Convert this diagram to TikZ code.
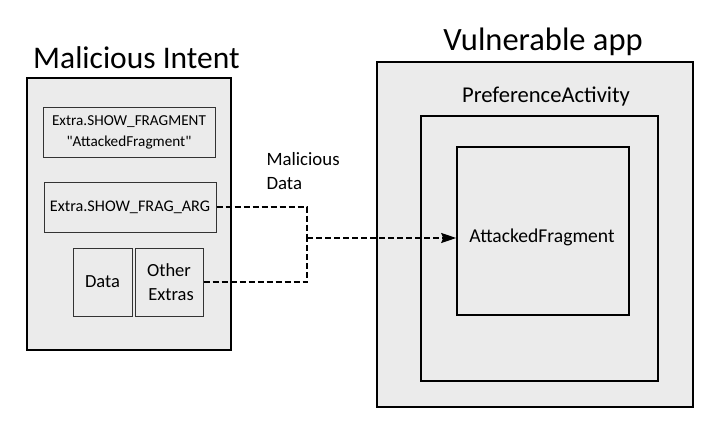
\documentclass[tikz,border=0pt]{standalone}
\usepackage{fontspec}
\setmainfont{Carlito}[Ligatures=TeXOff]
\usetikzlibrary{arrows.meta}
\definecolor{boxgray}{HTML}{EBEBEB}
\tikzset{
  panel/.style={draw=black, fill=boxgray, line width=1.6pt, inner sep=0pt},
  field/.style={draw=black!80, fill=boxgray, line width=1pt, inner sep=0pt, align=center},
  title/.style={anchor=base},
  flow/.style={line width=1.3pt, dash pattern=on 6pt off 3pt},
}
\begin{document}
\begin{tikzpicture}[x=1pt, y=-1pt]
\useasboundingbox (0,0) rectangle (715,431);

% Malicious intent side
\node[title, font=\fontsize{31.5}{36}\selectfont] (t1) at (136.5,68) {Malicious Intent};
\node[panel, minimum width=204pt, minimum height=272pt] (intent) at (129,214) {};
\node[field, minimum width=172pt, minimum height=50pt,
      font=\fontsize{15.2}{21}\selectfont] (showfrag) at (129,132)
      {Extra.SHOW\_FRAGMENT\\"AttackedFragment"};
\node[field, minimum width=172pt, minimum height=50pt,
      font=\fontsize{16.2}{21}\selectfont] (fragarg) at (130,207) {Extra.SHOW\_FRAG\_ARG};
\node[field, minimum width=59pt, minimum height=68pt,
      font=\fontsize{18.5}{24}\selectfont] (data) at (102.5,282) {Data};
\node[field, minimum width=68pt, minimum height=68pt,
      font=\fontsize{18.5}{24}\selectfont] (other) at (169,282) {Other\\\hspace*{4pt}Extras};

% Vulnerable app side
\node[title, font=\fontsize{32.5}{38}\selectfont] (t2) at (543,50) {Vulnerable app};
\node[panel, minimum width=316pt, minimum height=345pt] (app) at (535,234.5) {};
\node[anchor=base, font=\fontsize{22.6}{26}\selectfont] (pa) at (546,102) {PreferenceActivity};
\node[panel, minimum width=237pt, minimum height=265pt] (activity) at (539.5,248.5) {};
\node[panel, minimum width=172pt, minimum height=168pt] (fragment) at (543,231) {};
\node[font=\fontsize{19.6}{24}\selectfont] (fraglabel) at (542,237) {AttackedFragment};

% Malicious data flow
\node[anchor=west, align=left, font=\fontsize{18.8}{24}\selectfont] (mdata) at (263,171)
     {Malicious\\Data};
\coordinate (join) at (307,238);
\draw[flow] (fragarg.east) -| (join);
\draw[flow] (other.east) -| (join);
\draw[flow, -{Stealth[length=15pt, width=10pt, inset=2pt]}] (join) -- (fragment.west |- join);
\end{tikzpicture}
\end{document}
